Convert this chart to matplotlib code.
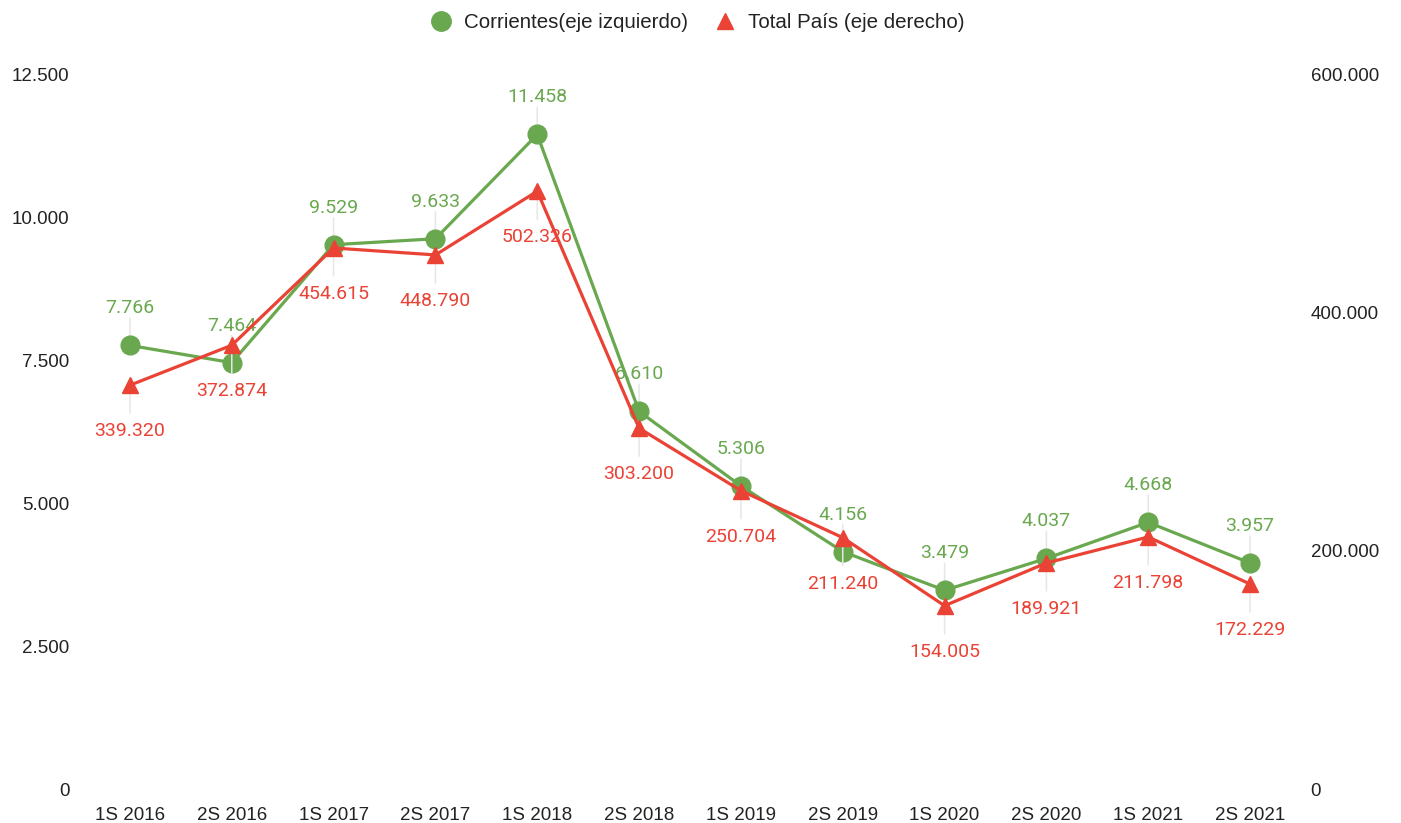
import matplotlib.pyplot as plt
from matplotlib.lines import Line2D
from matplotlib.ticker import FuncFormatter

#-Data
categories = ['1S 2016', '2S 2016', '1S 2017', '2S 2017', '1S 2018', '2S 2018',
              '1S 2019', '2S 2019', '1S 2020', '2S 2020', '1S 2021', '2S 2021']
corrientes = [7766, 7464, 9529, 9633, 11458, 6610, 5306, 4156, 3479, 4037, 4668, 3957]
total_pais = [339320, 372874, 454615, 448790, 502326, 303200, 250704, 211240,
              154005, 189921, 211798, 172229]
left_ticks = [0, 2500, 5000, 7500, 10000, 12500]
right_ticks = [0, 200000, 400000, 600000]

green = '#6aa84f'
red = '#ea4335'
leader = '#e6e6e6'
tick_font = 'Liberation Sans'
label_font = 'Roboto'

def fmt(v, pos=None):
    return '{:,.0f}'.format(v).replace(',', '.')

fig = plt.figure(figsize=(14.01, 8.23), dpi=100)
ax = fig.add_axes([0.0564, 0.0413, 0.8722, 0.8676])
ax2 = ax.twinx()

x = list(range(len(categories)))

ax.plot(x, corrientes, color=green, lw=2.3, marker='o', ms=13.5, zorder=3)
ax2.plot(x, total_pais, color=red, lw=2.3, marker='^', ms=12, zorder=3)

#-Data labels with thin leader lines
for i, v in enumerate(corrientes):
    ax.annotate('', xy=(i, v), xytext=(0, 27), textcoords='offset pixels',
                arrowprops=dict(arrowstyle='-', color=leader, lw=1.1, shrinkA=0, shrinkB=0),
                zorder=1)
    ax.annotate(fmt(v), xy=(i, v), xytext=(0, 37), textcoords='offset pixels',
                ha='center', va='center', color=green, fontsize=14,
                family=label_font, zorder=6)
for i, v in enumerate(total_pais):
    ax2.annotate('', xy=(i, v), xytext=(0, -28), textcoords='offset pixels',
                 arrowprops=dict(arrowstyle='-', color=leader, lw=1.1, shrinkA=0, shrinkB=0),
                 zorder=1)
    ax2.annotate(fmt(v), xy=(i, v), xytext=(0, -46), textcoords='offset pixels',
                 ha='center', va='center', color=red, fontsize=14,
                 family=label_font, zorder=6)

ax.set_xlim(-0.5, len(categories) - 0.5)
ax.set_ylim(0, 12500)
ax2.set_ylim(0, 600000)
ax.set_xticks(x)
ax.set_xticklabels(categories)
ax.set_yticks(left_ticks)
ax2.set_yticks(right_ticks)
ax.yaxis.set_major_formatter(FuncFormatter(fmt))
ax2.yaxis.set_major_formatter(FuncFormatter(fmt))

for a in (ax, ax2):
    for s in a.spines.values():
        s.set_visible(False)
    a.tick_params(length=0, labelsize=13.5, colors='#222222')
    for lab in a.get_xticklabels() + a.get_yticklabels():
        lab.set_family(tick_font)
ax.tick_params(axis='x', pad=13)
ax.tick_params(axis='y', pad=7)
ax2.tick_params(axis='y', pad=7)

handles = [Line2D([], [], color=green, marker='o', ls='none', ms=14),
           Line2D([], [], color=red, marker='^', ls='none', ms=12)]
fig.legend(handles, ['Corrientes(eje izquierdo)', 'Total País (eje derecho)'],
           loc='upper center', bbox_to_anchor=(0.4945, 1.007), ncol=2, frameon=False,
           prop={'family': tick_font, 'size': 14.8}, labelcolor='#222222',
           handletextpad=0.12, columnspacing=0.8)

fig.savefig('out.png', dpi=100)
